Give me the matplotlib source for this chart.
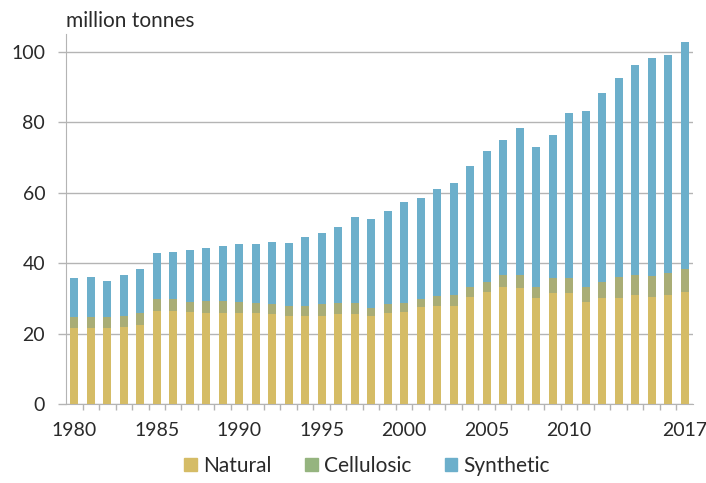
"""
Global fibre production 1980-2017, stacked by fibre type.
Writes out.png (706x483).
"""

import matplotlib

matplotlib.use("Agg")
import matplotlib.pyplot as plt
from matplotlib.ticker import MultipleLocator

years = list(range(1980, 2018))

# million tonnes
natural = [21.5, 21.5, 21.5, 22.0, 22.4, 26.5, 26.5, 26.2, 25.9, 25.9,
           25.9, 25.9, 25.7, 25.1, 25.1, 25.1, 25.7, 25.7, 25.0, 25.9,
           26.0, 27.5, 27.9, 27.9, 30.5, 31.9, 33.3, 33.1, 30.0, 31.4,
           31.4, 29.1, 30.0, 30.0, 31.0, 30.5, 31.0, 31.9]
cellulosic_top = [24.8, 24.8, 24.6, 25.0, 25.8, 29.7, 29.7, 29.1, 29.3, 29.3,
                  29.1, 28.8, 28.4, 27.8, 27.8, 28.3, 28.6, 28.6, 27.2, 28.4,
                  28.8, 29.7, 30.8, 31.0, 33.3, 34.7, 36.6, 36.6, 33.3, 35.7,
                  35.7, 33.3, 34.7, 36.0, 36.6, 36.4, 37.3, 38.3]
totals = [35.9, 36.2, 34.9, 36.6, 38.4, 42.8, 43.3, 43.7, 44.4, 45.0,
          45.4, 45.6, 45.9, 45.7, 47.4, 48.5, 50.4, 53.0, 52.7, 54.9,
          57.3, 58.6, 61.0, 62.9, 67.7, 71.9, 75.0, 78.5, 72.9, 76.4,
          82.8, 83.2, 88.3, 92.5, 96.3, 98.2, 99.3, 102.9]

cellulosic = [c - n for c, n in zip(cellulosic_top, natural)]
synthetic = [t - c for t, c in zip(totals, cellulosic_top)]

tick_years = [1980, 1985, 1990, 1995, 2000, 2005, 2010, 2017]

COLORS = {"Natural": "#d5bc66", "Cellulosic": "#a9ad76", "Synthetic": "#6cafcb"}
LEGEND_COLORS = {"Natural": "#d5bc66", "Cellulosic": "#95b47f", "Synthetic": "#6cafcb"}
GRID = "#b4b4b4"
TEXT = "#2a2a2a"

plt.rcParams["font.family"] = ["Lato", "DejaVu Sans"]

fig = plt.figure(figsize=(7.06, 4.83), dpi=100)
ax = fig.add_axes([0.0935, 0.1636, 0.888, 0.765])

width = 0.5
ax.bar(years, natural, width=width, color=COLORS["Natural"], zorder=3)
ax.bar(years, cellulosic, width=width, bottom=natural, color=COLORS["Cellulosic"], zorder=3)
ax.bar(years, synthetic, width=width, bottom=cellulosic_top, color=COLORS["Synthetic"], zorder=3)

ax.set_xlim(1979.5, 2017.5)
ax.set_ylim(0, 105)
ax.yaxis.set_major_locator(MultipleLocator(20))
ax.grid(axis="y", color=GRID, linewidth=1.0, zorder=0)

ax.set_xticks(tick_years)
ax.set_xticks([y + 0.5 for y in years[:-1]], minor=True)
ax.tick_params(axis="x", which="major", length=0, pad=13, labelsize=14, labelcolor=TEXT)
ax.tick_params(axis="x", which="minor", length=4, color=GRID, width=1)
ax.tick_params(axis="y", length=6, color=GRID, width=1, pad=9, labelsize=14, labelcolor=TEXT)

for side in ("top", "right"):
    ax.spines[side].set_visible(False)
ax.spines["left"].set_color(GRID)
ax.spines["bottom"].set_color(GRID)

fig.text(0.094, 0.957, "million tonnes", fontsize=15, color=TEXT, ha="left", va="center")

handles = [plt.Rectangle((0, 0), 1, 1, color=LEGEND_COLORS[k]) for k in LEGEND_COLORS]
fig.legend(handles, list(LEGEND_COLORS), loc="center", bbox_to_anchor=(0.52, 0.035),
           ncol=3, frameon=False, fontsize=15, handlelength=0.6, handleheight=0.6,
           handletextpad=0.3, columnspacing=1.6, labelcolor=TEXT)

fig.savefig("out.png", dpi=100)
